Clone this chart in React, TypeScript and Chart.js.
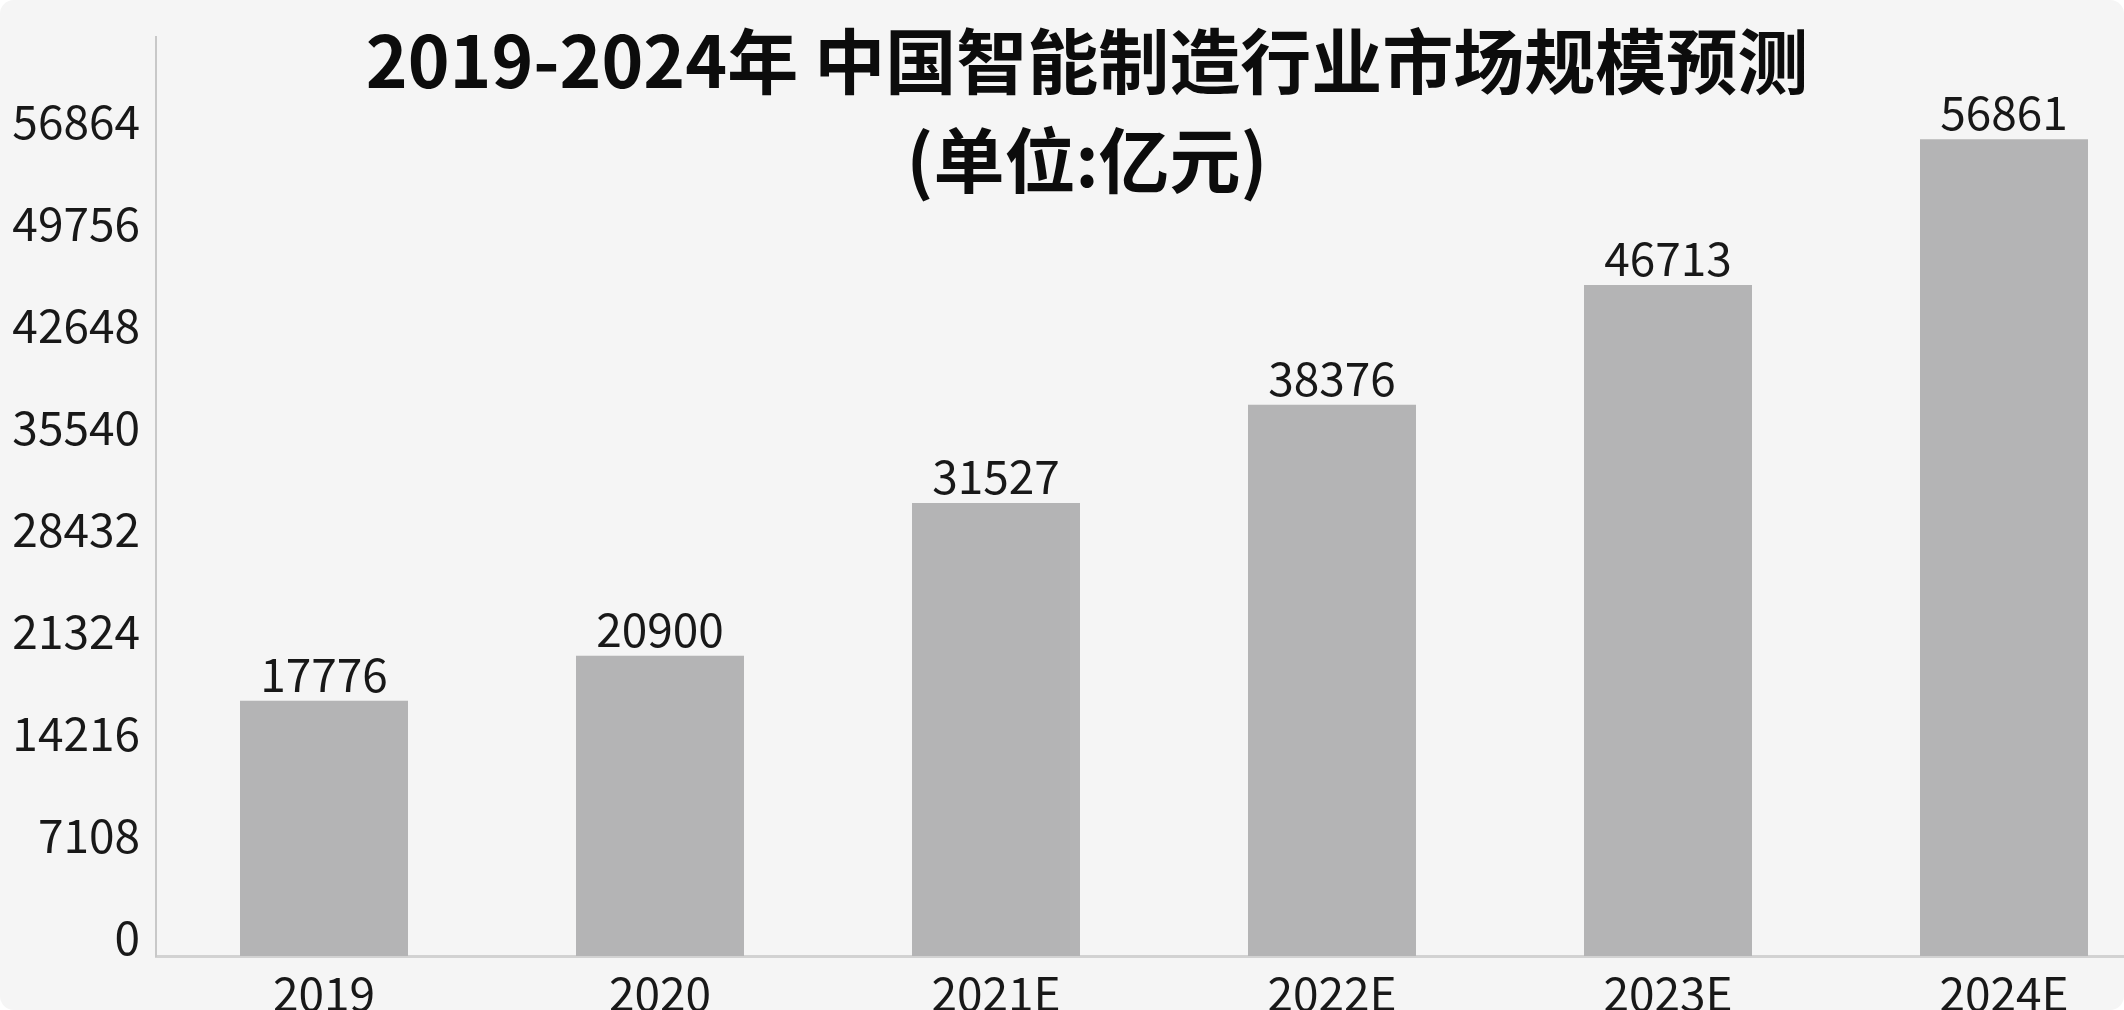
import React, { useEffect, useRef } from "react";
import { Chart, registerables } from "chart.js";

Chart.register(...registerables);

const categories = ["2019", "2020", "2021E", "2022E", "2023E", "2024E"];
const marketSize = [17776, 20900, 31527, 38376, 46713, 56861];
const yStep = 7108;
const yMax = 63972;
const titleLines = ["2019-2024年 中国智能制造行业市场规模预测", "(单位:亿元)"];

const FONT = '"Noto Sans CJK SC", "Noto Sans", sans-serif';

const overlayPlugin = {
  id: "overlay",
  afterDatasetsDraw(chart: any) {
    const ctx = chart.ctx;
    const meta = chart.getDatasetMeta(0);
    ctx.save();
    ctx.fillStyle = "#181818";
    ctx.font = `46px ${FONT}`;
    ctx.textAlign = "center";
    ctx.textBaseline = "alphabetic";
    meta.data.forEach((bar: any, i: number) => {
      ctx.fillText(String(marketSize[i]), bar.x, bar.y - 9);
    });
    ctx.fillStyle = "#0c0c0c";
    ctx.font = `bold 71px ${FONT}`;
    ctx.textBaseline = "middle";
    ctx.fillText(titleLines[0], 1087, 61);
    ctx.fillText(titleLines[1], 1087, 160);
    ctx.restore();
  },
};

export default function App() {
  const ref = useRef<HTMLCanvasElement | null>(null);
  useEffect(() => {
    if (!ref.current) return;
    const chart = new Chart(ref.current, {
      type: "bar",
      data: {
        labels: categories,
        datasets: [
          {
            data: marketSize,
            backgroundColor: "#b4b4b5",
            barPercentage: 0.5,
            categoryPercentage: 1,
          },
        ],
      },
      options: {
        responsive: false,
        animation: false,
        devicePixelRatio: 1,
        layout: { padding: { top: 37, left: 0, right: 0, bottom: 0 } },
        plugins: {
          legend: { display: false },
          tooltip: { enabled: false },
          title: { display: false },
        },
        scales: {
          x: {
            grid: { display: false, drawTicks: false },
            border: { display: true, color: "#d2d2d2", width: 3 },
            ticks: {
              color: "#181818",
              font: { family: FONT, size: 46 },
              padding: 10,
              maxRotation: 0,
            },
            afterFit(scale: any) {
              scale.height = 54;
              scale.paddingLeft = 0;
              scale.paddingRight = 0;
            },
          },
          y: {
            min: 0,
            max: yMax,
            grid: { display: false, drawTicks: false },
            border: { display: true, color: "#c8c8c8", width: 2 },
            ticks: {
              stepSize: yStep,
              color: "#181818",
              font: { family: FONT, size: 46 },
              padding: 16,
              labelOffset: -18,
              callback: (v: any) => (Number(v) >= yMax ? "" : String(v)),
            },
            afterFit(scale: any) {
              scale.width = 156;
              scale.paddingTop = 0;
              scale.paddingBottom = 0;
            },
          },
        },
      },
      plugins: [overlayPlugin],
    });
    return () => chart.destroy();
  }, []);

  return (
    <div
      style={{
        position: "fixed",
        left: 0,
        top: 0,
        width: 2124,
        height: 1010,
        overflow: "hidden",
        background: "#f5f5f5",
        borderRadius: 14,
      }}
    >
      <canvas ref={ref} width={2172} height={1010} style={{ display: "block" }} />
    </div>
  );
}
